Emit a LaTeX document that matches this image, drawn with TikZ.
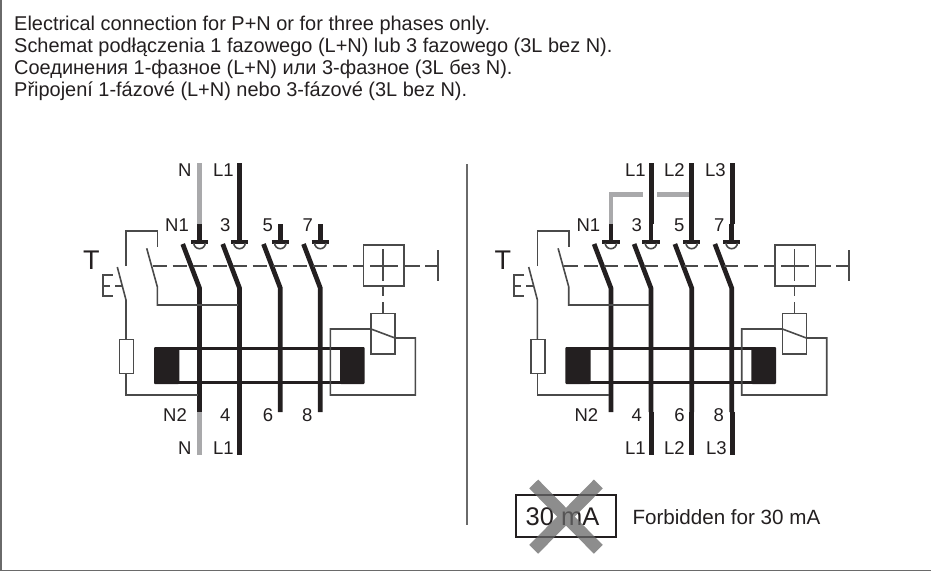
\documentclass[tikz,border=0pt]{standalone}
\usepackage{fontspec}
\setmainfont{Liberation Sans}
\definecolor{ink}{HTML}{231F20}
\definecolor{wire}{HTML}{4A4A4A}
\definecolor{neutral}{HTML}{A9A9AB}
\definecolor{crossgray}{HTML}{676767}
\definecolor{framegray}{HTML}{6A6A6A}
\newcommand{\schematic}{%
  % toroid
  \draw[ring wire] (160,348.3) -- (358,348.3) (160,382.7) -- (358,382.7);
  \fill[ink,rounded corners=1pt] (154,347) rectangle (179.3,384);
  \fill[ink,rounded corners=1pt] (340,347) rectangle (364.7,384);
  % pole contacts and verticals
  \foreach \p in {199.5,239.5,280.3,320.3}{
    \draw[heavy,line join=miter] (\p-16.8,244) -- (\p,288) -- (\p,412);
    \draw[heavy] (\p,224) -- (\p,242);
    \draw[bar] (\p-8.7,242) -- (\p+8.7,242);
    \draw[thin wire] (\p-5.7,243) arc[start angle=180,end angle=0,radius=5.7];
  }
  % test circuit
  \draw[thin wire] (126,266) -- (126,230.7) -- (157.3,230.7) -- (157.3,247.3);
  \draw[thin wire] (146.7,248.3) -- (157.3,286.7) -- (157.3,305) -- (238,305);
  \draw[thin wire] (117.3,267) -- (126,300) -- (126,339.3);
  \draw[thin wire,fill=white] (119.3,339.3) rectangle (133.3,373.3);
  \draw[thin wire] (126,373.3) -- (126,395) -- (198,395);
  \draw[thin wire] (112.7,275) -- (102.7,275) -- (102.7,296) -- (112.7,296);
  \draw[thin wire] (102.7,286) -- (110,286);
  \draw[thin wire] (115,286) -- (122.5,286);
  % mechanism
  \draw[thin wire,dash pattern=on 14pt off 6pt] (152.7,266) -- (363.3,266);
  \draw[thin wire] (363.3,245) rectangle (404,285.7);
  \draw[thin wire] (370,266) -- (398,266);
  \draw[thin wire] (383,249.3) -- (383,280.7);
  \draw[thin wire] (404,266) -- (420,266);
  \draw[thin wire] (425,266) -- (437.7,266);
  \draw[thin wire] (437.7,250) -- (437.7,280.5);
  \draw[thin wire] (383,285.7) -- (383,296);
  \draw[thin wire] (383,302) -- (383,313.3);
  % relay
  \draw[thin wire] (371,313.3) rectangle (395,354);
  \draw[thin wire] (371,329) -- (395,338) -- (415.3,338) -- (415.3,395) -- (330.3,395) -- (330.3,329) -- cycle;
  % labels common to both diagrams
  \node[lbl,font=\fontsize{27}{27}\selectfont] (t) at (83,269) {T};
  \node[lbl] (n1) at (165,231) {N1};
  \node[lbl] (three) at (220,231) {3};
  \node[lbl] (five) at (262.5,231) {5};
  \node[lbl] (seven) at (302.5,231) {7};
  \node[lbl] (n2) at (163,421.7) {N2};
  \node[lbl] (four) at (220,421.7) {4};
  \node[lbl] (six) at (262.7,421.7) {6};
  \node[lbl] (eight) at (302,421.7) {8};
}
\tikzset{
  thin wire/.style={draw=wire,line width=1.6pt},
  ring wire/.style={draw=ink,line width=2.6pt},
  heavy/.style={draw=ink,line width=4.7pt},
  bar/.style={draw=ink,line width=3.2pt},
  graywire/.style={draw=neutral,line width=4.7pt},
  lbl/.style={anchor=base west,inner sep=0pt,text=ink,font=\fontsize{18.5}{22}\selectfont},
  head/.style={anchor=base west,inner sep=0pt,text=ink,font=\fontsize{19.95}{22}\selectfont},
}
\begin{document}
\begin{tikzpicture}[x=1pt,y=-1pt]
\useasboundingbox (0,0) rectangle (931,574);
\fill[white] (0,0) rectangle (931,574);
% frame and divider
\draw[framegray,line width=1.6pt] (1.3,0) -- (1.3,570.3) -- (931,570.3);
\draw[framegray,line width=1.3pt] (467,164) -- (467,525);
% heading
\node[head] (h1) at (14,30) {Electrical connection for P+N or for three phases only.};
\node[head] (h2) at (14,52) {Schemat podłączenia 1 fazowego (L+N) lub 3 fazowego (3L bez N).};
\node[head] (h3) at (14,74) {Соединения 1-фазное (L+N) или 3-фазное (3L без N).};
\node[head] (h4) at (14,96.4) {Připojení 1-fázové (L+N) nebo 3-fázové (3L bez N).};
% left diagram
\schematic
\draw[graywire] (199.5,163) -- (199.5,224);
\draw[heavy] (239.5,163) -- (239.5,224);
\draw[graywire] (199.5,412) -- (199.5,455);
\draw[heavy] (239.5,412) -- (239.5,455);
\node[lbl] (ntop) at (178,176.7) {N};
\node[lbl] (l1top) at (213,176.7) {L1};
\node[lbl] (nbot) at (178,454) {N};
\node[lbl] (l1bot) at (213,454) {L1};
% right diagram
\begin{scope}[xshift=411.4pt]
\schematic
\end{scope}
\draw[graywire,line join=miter] (611,224) -- (611,194.3) -- (643,194.3);
\draw[graywire] (657,194.3) -- (692,194.3);
\draw[heavy] (651.7,163) -- (651.7,224);
\draw[heavy] (691.7,163) -- (691.7,224);
\draw[heavy] (732.2,163) -- (732.2,224);
\draw[heavy] (651.7,412) -- (651.7,455);
\draw[heavy] (691.7,412) -- (691.7,455);
\draw[heavy] (732.2,412) -- (732.2,455);
\node[lbl] (rl1t) at (625,176.7) {L1};
\node[lbl] (rl2t) at (664,176.7) {L2};
\node[lbl] (rl3t) at (705,176.7) {L3};
\node[lbl] (rl1b) at (625,454) {L1};
\node[lbl] (rl2b) at (664,454) {L2};
\node[lbl] (rl3b) at (706,454) {L3};
% forbidden mark
\draw[draw=ink,line width=1.8pt] (516,495.3) rectangle (616,536.7);
\node[lbl,font=\fontsize{25.5}{26}\selectfont] (ma) at (525.5,525) {30 mA};
\draw[crossgray,opacity=.75,line width=12.5pt] (533.7,484) -- (598.3,549.3) (598.3,484) -- (533.7,549.3);
\node[lbl,font=\fontsize{20.6}{22}\selectfont] (forb) at (632.3,524) {Forbidden for 30 mA};
\end{tikzpicture}
\end{document}
